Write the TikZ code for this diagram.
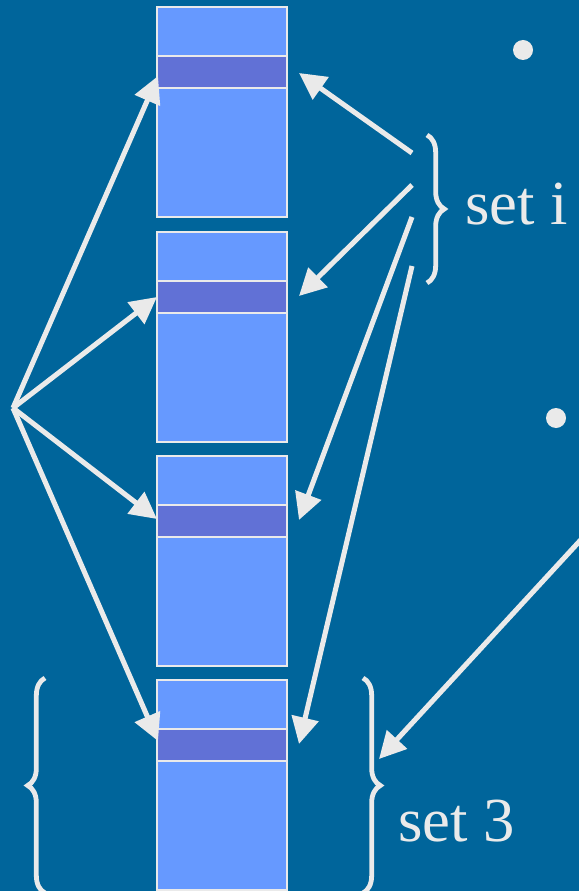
\documentclass[tikz,border=0pt]{standalone}
\usepackage{fontspec}
\setmainfont{Liberation Serif}
\usetikzlibrary{arrows.meta,decorations.pathreplacing}
\definecolor{bg}{HTML}{00659B}
\definecolor{blk}{HTML}{6699FF}
\definecolor{band}{HTML}{6171D6}
\definecolor{ln}{HTML}{EAEAEA}
\tikzset{
  blockbox/.style={draw=ln,line width=1.5pt,fill=blk,inner sep=0pt,minimum width=97.5pt,minimum height=157.5pt},
  bandbox/.style={draw=ln,line width=1.5pt,fill=band,inner sep=0pt,minimum width=97.5pt,minimum height=24pt},
  arr/.style={draw=ln,line width=3.8pt,-{Triangle[length=20pt,width=20pt]}},
  bracebig/.style={draw=ln,line width=3.6pt,decorate,decoration={brace,amplitude=13pt}},
  lbl/.style={text=ln,font=\fontsize{47}{47}\selectfont,inner sep=0pt,anchor=base west}
}
\begin{document}
\begin{tikzpicture}[x=0.75pt,y=-0.75pt]
\fill[bg] (0,0) rectangle (579,891);
\useasboundingbox (0,0) rectangle (579,891);
\begin{scope}
\clip (0,0) rectangle (579,891);
% blocks
\node[blockbox] (b1) at (222,112) {};
\node[blockbox] (b2) at (222,336.5) {};
\node[blockbox] (b3) at (222,560.5) {};
\node[blockbox] (b4) at (222,784.5) {};
\node[bandbox] (d1) at (222,72) {};
\node[bandbox] (d2) at (222,297) {};
\node[bandbox] (d3) at (222,521) {};
\node[bandbox] (d4) at (222,745) {};
% coordinates
\coordinate (L) at (13,408);
\coordinate (lt1) at (158,76);
\coordinate (lt2) at (157,297);
\coordinate (lt3) at (157,519);
\coordinate (lt4) at (158,741);
\coordinate (r1) at (412,153);
\coordinate (r2) at (412,185);
\coordinate (r3) at (412,217);
\coordinate (r4) at (412,266);
\coordinate (rt1) at (299,73);
\coordinate (rt2) at (299,296);
\coordinate (rt3) at (299,520);
\coordinate (rt4) at (299,744);
\coordinate (far) at (600,519);
\coordinate (ft) at (379,759);
% arrows
\draw[arr] (L) -- (lt1);
\draw[arr] (L) -- (lt2);
\draw[arr] (L) -- (lt3);
\draw[arr] (L) -- (lt4);
\draw[arr] (r1) -- (rt1);
\draw[arr] (r2) -- (rt2);
\draw[arr] (r3) -- (rt3);
\draw[arr] (r4) -- (rt4);
\draw[arr] (far) -- (ft);
% braces
\coordinate (bi1) at (427,135);
\coordinate (bi2) at (427,283);
\coordinate (bl1) at (45,893);
\coordinate (bl2) at (45,678);
\coordinate (br1) at (363,678);
\coordinate (br2) at (363,893);
\draw[bracebig] (bi1) -- (bi2);
\draw[bracebig] (bl1) -- (bl2);
\draw[bracebig] (br1) -- (br2);
% bullets
\node[circle,fill=ln,minimum size=15pt,inner sep=0pt] (p1) at (523,50) {};
\node[circle,fill=ln,minimum size=15pt,inner sep=0pt] (p2) at (556,418) {};
% labels
\node[lbl] (si) at (465,224) {set i};
\node[lbl] (s3) at (398,841) {set 3};
\end{scope}
\end{tikzpicture}
\end{document}
